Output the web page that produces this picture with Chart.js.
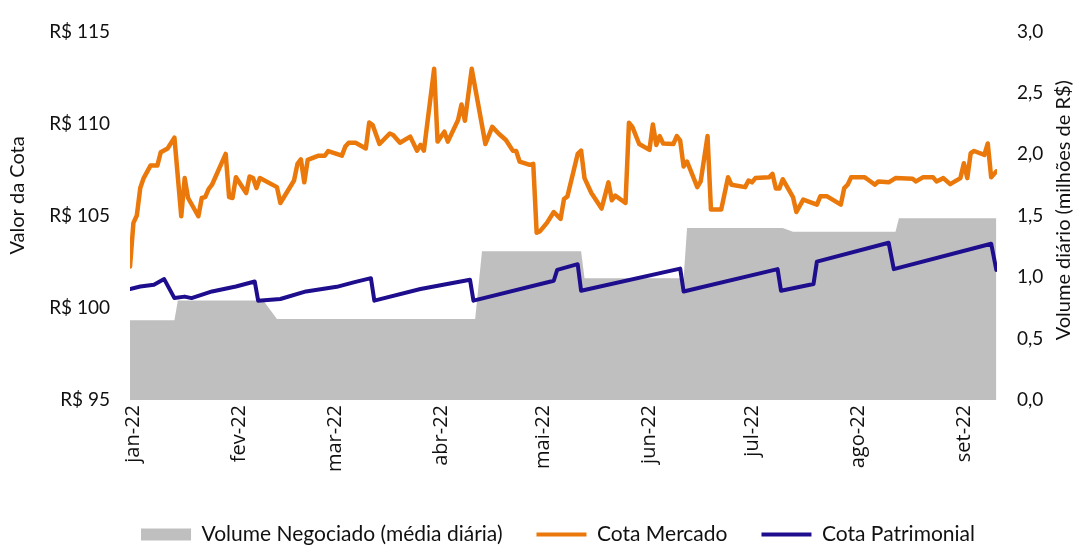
<!DOCTYPE html>
<html><head><meta charset="utf-8">
<script src="https://cdn.jsdelivr.net/npm/chart.js@4.4.1/dist/chart.umd.min.js"></script>
<style>html,body{margin:0;padding:0;background:#fff}#wrap{width:1073px;height:545px}</style>
</head><body><div id="wrap"><canvas id="c" width="1073" height="545"></canvas></div>
<script>
// x values: day of year 2022 (0 = 1 Jan)
const monthTickDays = [0, 31, 59, 90, 120, 151, 181, 212, 243];
const monthLabels = ['jan-22','fev-22','mar-22','abr-22','mai-22','jun-22','jul-22','ago-22','set-22'];

const mercadoDays = [-1,0,1,2,3,5,7,8,10,12,14,15,16,19,20,21,22,23,27,28,29,30,33,34,35,36,37,42,43,47,48,49,50,51,54,56,57,61,62,63,65,68,69,70,72,75,76,78,81,83,84,85,88,89,91,92,95,96,97,99,103,105,107,109,111,112,113,116,117,118,119,121,123,125,126,127,130,131,132,134,137,139,140,141,144,145,146,148,151,152,153,154,155,158,159,160,161,162,165,166,168,169,172,174,175,179,180,181,182,186,187,188,189,190,193,194,196,200,201,203,207,208,209,210,214,215,217,218,221,223,228,229,231,234,235,237,239,242,243,244,245,246,249,250,251,252.5];
const mercadoValues = [102.24,104.61,105.01,106.50,107.04,107.72,107.72,108.44,108.65,109.23,104.97,107.04,105.96,104.97,105.96,106.01,106.44,106.68,108.35,106.01,105.96,107.09,106.23,107.13,107.04,106.50,107.04,106.55,105.69,106.91,107.81,108.06,106.81,108.03,108.25,108.25,108.51,108.26,108.75,108.96,108.96,108.65,110.06,109.92,108.89,109.46,109.38,108.96,109.29,108.53,108.84,108.53,112.97,109.02,109.56,109.02,110.19,111.03,110.15,112.97,108.89,109.82,109.43,109.11,108.53,108.51,107.94,107.76,107.81,104.07,104.16,104.61,105.20,104.83,105.91,106.05,108.35,108.53,107.04,106.23,105.39,106.81,105.84,106.09,105.69,110.04,109.82,108.89,108.57,109.95,108.84,109.32,108.92,108.89,109.32,109.07,107.67,107.94,106.55,106.86,109.32,105.33,105.33,107.09,106.68,106.55,106.91,106.81,107.04,107.08,107.27,106.47,106.47,106.98,106.01,105.20,105.87,105.60,106.05,106.05,105.60,106.50,106.68,107.08,107.08,106.95,106.68,106.86,106.81,107.04,107.01,106.86,107.08,107.08,106.86,107.04,106.71,107.04,107.85,107.04,108.39,108.51,108.30,108.92,107.08,107.40];

const patrimonialDays = [-1,2,6,9,12,15,17,23,30,35.5,36.5,43,50.5,59.5,65,69.5,70.5,84,98.5,99.5,123,124,130,131,160,161,188.5,189.5,199,200,221,222.5,251,252.5];
const patrimonialValues = [101.02,101.16,101.25,101.56,100.53,100.61,100.53,100.89,101.16,101.43,100.39,100.48,100.89,101.14,101.41,101.61,100.39,101.02,101.52,100.39,101.47,102.06,102.37,100.93,102.13,100.89,102.10,100.93,101.29,102.51,103.53,102.10,103.48,102.06];

const volumeDays = [-1,12,13,38,42,100,102,131,132,161,162,190,193,223,224,252.5];
const volumeValues = [0.65,0.65,0.81,0.81,0.66,0.66,1.21,1.21,0.99,0.99,1.40,1.40,1.37,1.37,1.48,1.48];

const leftTitle = 'Valor da Cota';
const rightTitle = 'Volume diário (milhões de R$)';

const pts = (xs, ys) => xs.map((x, i) => ({x: x, y: ys[i]}));
const ORANGE = '#EA780A', BLUE = '#1E0E8E', GREY = '#BFBFBF';
const TXT = '#111';

const titlePlugin = {
  id: 'axisTitles',
  afterDraw(chart) {
    const ctx = chart.ctx, a = chart.chartArea;
    ctx.save();
    ctx.fillStyle = TXT;
    ctx.font = '20px Lato';
    ctx.textAlign = 'center';
    ctx.textBaseline = 'middle';
    ctx.translate(18, a.top + a.height * 0.445);
    ctx.rotate(-Math.PI / 2);
    ctx.fillText(leftTitle, 0, 0);
    ctx.restore();
    ctx.save();
    ctx.fillStyle = TXT;
    ctx.font = '20px Lato';
    ctx.textAlign = 'center';
    ctx.textBaseline = 'middle';
    ctx.translate(chart.scales.y1.right - 9, a.top + a.height * 0.485);
    ctx.rotate(-Math.PI / 2);
    ctx.fillText(rightTitle, 0, 0);
    ctx.restore();
  }
};

// shift the centred legend a little to the right, as in the original
const legendShift = {
  id: 'legendShift',
  afterLayout(chart) { if (chart.legend) { chart.legend.left += 43; } }
};

new Chart(document.getElementById('c'), {
  type: 'line',
  data: {
    datasets: [
      { label: 'Volume Negociado (média diária)', data: pts(volumeDays, volumeValues), yAxisID: 'y1',
        fill: 'origin', backgroundColor: GREY, borderColor: GREY, borderWidth: 0, pointRadius: 0, tension: 0, order: 3,
        lg: { style: 'rect', fill: GREY, stroke: GREY, lw: 0 } },
      { label: 'Cota Mercado', data: pts(mercadoDays, mercadoValues), yAxisID: 'y',
        borderColor: ORANGE, backgroundColor: ORANGE, borderWidth: 4.5, pointRadius: 0, tension: 0, fill: false, order: 1,
        borderJoinStyle: 'round', borderCapStyle: 'round',
        lg: { style: 'line', fill: ORANGE, stroke: ORANGE, lw: 4 } },
      { label: 'Cota Patrimonial', data: pts(patrimonialDays, patrimonialValues), yAxisID: 'y',
        borderColor: BLUE, backgroundColor: BLUE, borderWidth: 4, pointRadius: 0, tension: 0, fill: false, order: 2,
        borderJoinStyle: 'round', borderCapStyle: 'round',
        lg: { style: 'line', fill: BLUE, stroke: BLUE, lw: 4 } }
    ]
  },
  options: {
    responsive: false, animation: false, devicePixelRatio: 1,
    layout: { padding: { top: 29, left: 0, right: 0, bottom: -10 } },
    plugins: {
      tooltip: { enabled: false },
      legend: {
        position: 'bottom',
        labels: {
          usePointStyle: true, pointStyleWidth: 50, boxHeight: 12,
          padding: 34, color: TXT, font: { family: 'Lato', size: 21 },
          generateLabels(chart) {
            return chart.data.datasets.map((ds, i) => ({
              text: ds.label, datasetIndex: i, hidden: false,
              fillStyle: ds.lg.fill, strokeStyle: ds.lg.stroke, lineWidth: ds.lg.lw,
              pointStyle: ds.lg.style, fontColor: TXT
            }));
          }
        }
      }
    },
    scales: {
      x: {
        type: 'linear', min: -1, max: 252.7,
        grid: { display: false, drawTicks: false }, border: { display: false },
        afterBuildTicks(s) { s.ticks = monthTickDays.map(v => ({ value: v })); },
        afterFit(s) { s.height = 90; },
        ticks: {
          autoSkip: false, minRotation: 90, maxRotation: 90, padding: 5, color: TXT,
          font: { family: 'Open Sans', size: 20 },
          callback: (v) => monthLabels[monthTickDays.indexOf(v)]
        }
      },
      y: {
        position: 'left', min: 95, max: 115,
        grid: { display: false, drawTicks: false }, border: { display: false },
        afterFit(s) { s.width = 130; },
        ticks: { stepSize: 5, padding: 20, color: TXT, font: { family: 'Lato', size: 19 },
          callback: (v) => 'R$ ' + v }
      },
      y1: {
        position: 'right', min: 0, max: 3,
        grid: { display: false, drawTicks: false }, border: { display: false },
        afterFit(s) { s.width = 76; },
        ticks: { stepSize: 0.5, padding: 20, color: TXT, font: { family: 'Lato', size: 19 },
          callback: (v) => v.toFixed(1).replace('.', ',') }
      }
    }
  },
  plugins: [titlePlugin, legendShift]
});
</script>
</body></html>
